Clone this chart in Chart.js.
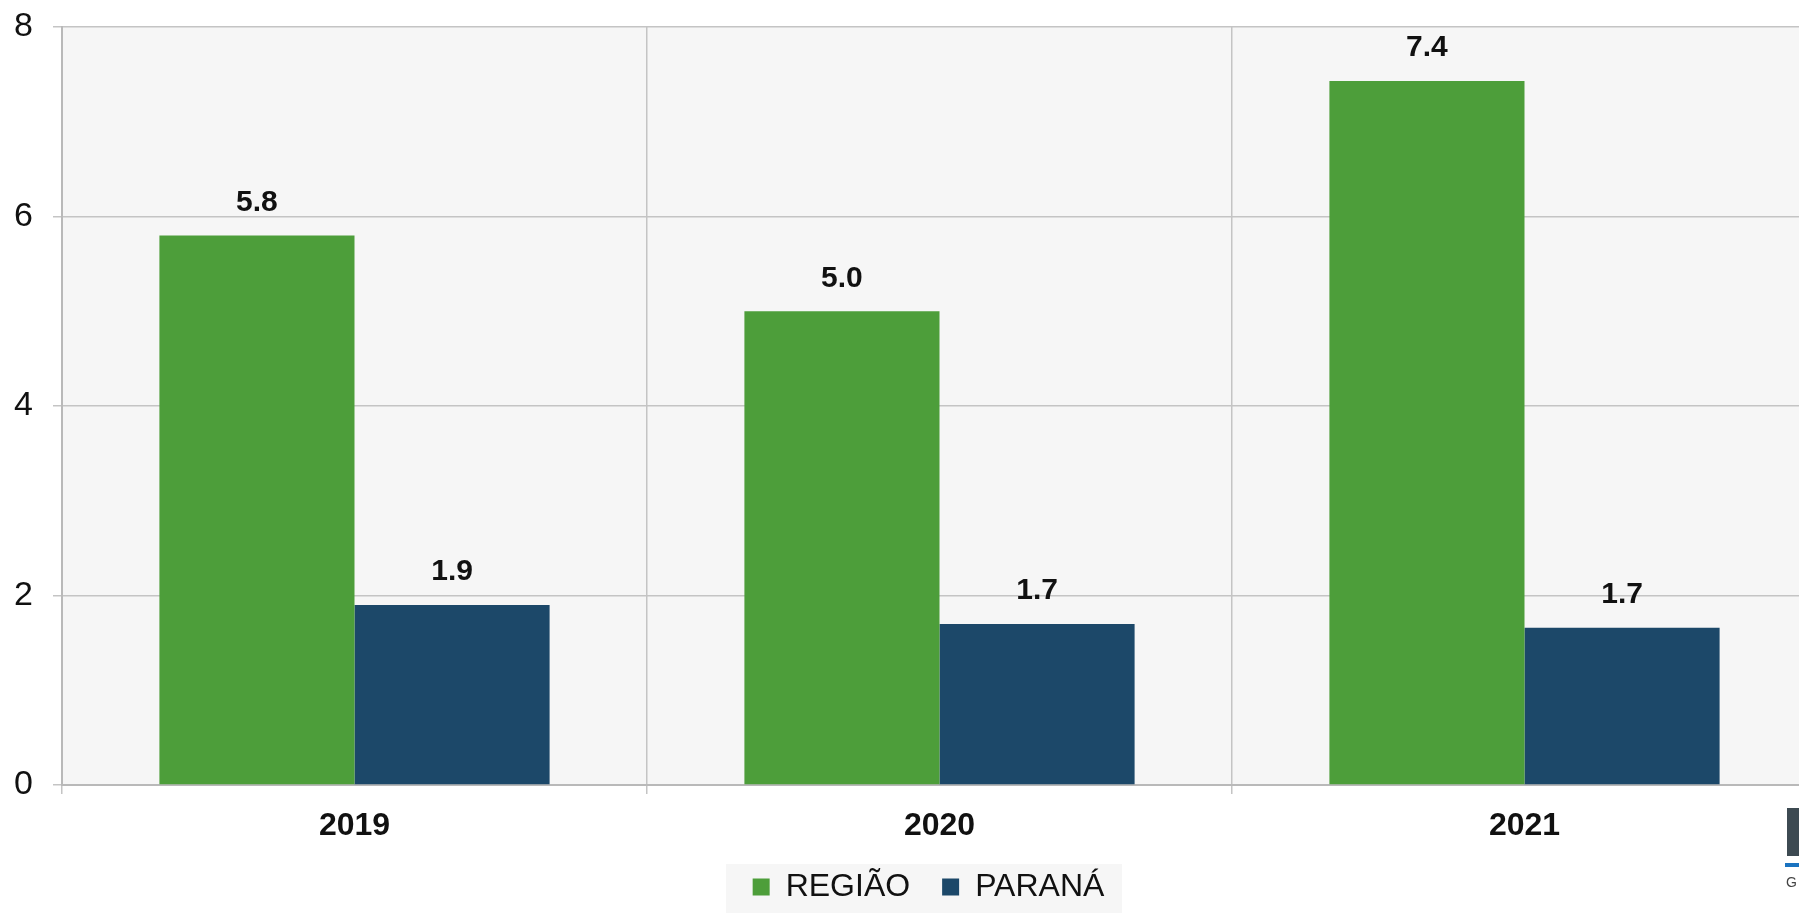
<!DOCTYPE html>
<html>
<head>
<meta charset="utf-8">
<script src="https://cdn.jsdelivr.net/npm/chart.js@4"></script>
<style>
  html, body { margin: 0; padding: 0; background: #fff; overflow: hidden; }
  #wrap { position: relative; width: 1830px; height: 913px; }
  .logo-box { position: absolute; left: 1787px; top: 808px; width: 20px; height: 48px; background: #3d4a52; }
  .logo-line { position: absolute; left: 1785px; top: 863px; width: 20px; height: 4px; background: #1a73c0; }
  .logo-g { position: absolute; left: 1786px; top: 874px; font: 14px "Liberation Sans", Arial, sans-serif; color: #444; }
</style>
</head>
<body>
<div id="wrap">
  <canvas id="myBarChart" width="1830" height="913"></canvas>
  <div class="logo-box"></div>
  <div class="logo-line"></div>
  <div class="logo-g">G</div>
</div>
<script>
const ctx = document.getElementById("myBarChart");

const anos = ["2019", "2020", "2021"];
const regiao = [5.8, 5.0, 7.43];
const parana = [1.9, 1.7, 1.66];
const yTicks = [0, 2, 4, 6, 8];

const fonte = "'Liberation Sans', Arial, sans-serif";

// fundo cinza da area do grafico e da legenda
const fundoPlugin = {
  id: "fundo",
  afterLayout(chart) {
    // a legenda fica um pouco a direita do centro no original
    chart.legend.left += 13;
    chart.legend.right += 13;
  },
  beforeDraw(chart) {
    const c = chart.ctx;
    const a = chart.chartArea;
    c.save();
    c.fillStyle = "#f6f6f6";
    c.fillRect(a.left, a.top, a.right - a.left, a.bottom - a.top);
    c.fillRect(726, 864, 396, 49);
    c.restore();
  },
};

// rotulos de valor em cima das barras
const rotulosPlugin = {
  id: "rotulos",
  afterDatasetsDraw(chart) {
    const c = chart.ctx;
    c.save();
    c.font = "bold 30px " + fonte;
    c.fillStyle = "#111";
    c.textAlign = "center";
    c.textBaseline = "bottom";
    chart.data.datasets.forEach((ds, i) => {
      chart.getDatasetMeta(i).data.forEach((bar, j) => {
        c.fillText(ds.data[j].toFixed(1), bar.x, bar.y - 18);
      });
    });
    c.restore();
  },
};

new Chart(ctx, {
  type: "bar",
  data: {
    labels: anos,
    datasets: [
      {
        label: "REGIÃO",
        data: regiao,
        backgroundColor: "#4d9e3a",
        categoryPercentage: 0.667,
        barPercentage: 1.0,
      },
      {
        label: "PARANÁ",
        data: parana,
        backgroundColor: "#1c4869",
        categoryPercentage: 0.667,
        barPercentage: 1.0,
      },
    ],
  },
  options: {
    responsive: false,
    animation: false,
    layout: { padding: { left: 14, right: 13, top: 27, bottom: 0 } },
    plugins: {
      legend: {
        display: true,
        position: "bottom",
        labels: {
          color: "#111",
          font: { family: fonte, size: 32 },
          boxWidth: 17,
          boxHeight: 17,
          padding: 32,
        },
      },
      tooltip: { enabled: false },
    },
    scales: {
      x: {
        afterFit(scale) {
          scale.height = 54;
        },
        grid: {
          offset: true,
          color: "#c4c4c4",
          lineWidth: 1.5,
          tickLength: 9,
        },
        border: { color: "#b9b9b9", width: 2 },
        ticks: {
          color: "#111",
          font: { family: fonte, size: 32, weight: "bold" },
          padding: 13,
        },
      },
      y: {
        min: 0,
        max: 8,
        afterBuildTicks(scale) {
          scale.ticks = yTicks.map((v) => ({ value: v }));
        },
        afterFit(scale) {
          scale.width = 48;
        },
        grid: {
          color: "#c4c4c4",
          lineWidth: 1.5,
          tickLength: 9,
        },
        border: { color: "#b9b9b9", width: 2 },
        ticks: {
          color: "#111",
          font: { family: fonte, size: 34 },
          crossAlign: "far",
          padding: 0,
        },
      },
    },
  },
  plugins: [fundoPlugin, rotulosPlugin],
});
</script>
</body>
</html>
